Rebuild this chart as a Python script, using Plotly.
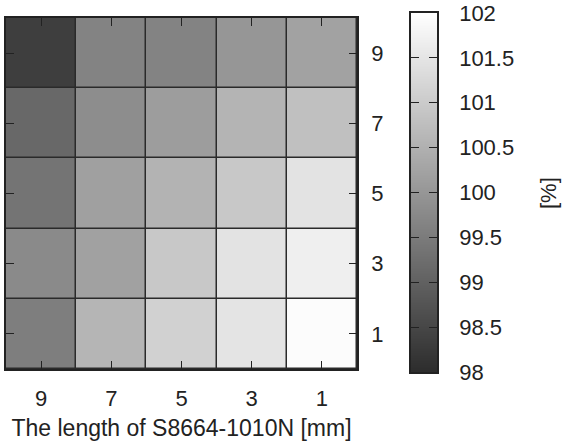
import plotly.graph_objects as go

x_vals = [9, 7, 5, 3, 1]
y_vals = [1, 3, 5, 7, 9]
# rows correspond to y_vals (bottom to top), columns to x_vals (left to right)
z_vals = [
    [99.55, 100.59, 101.13, 101.48, 101.94],   # y=1
    [99.78, 100.22, 100.96, 101.46, 101.69],   # y=3
    [99.37, 100.20, 100.55, 100.96, 101.46],   # y=5
    [99.14, 99.84, 100.14, 100.57, 100.80],    # y=7
    [98.35, 99.64, 99.64, 100.00, 100.24],     # y=9
]
cbar_ticks = [98, 98.5, 99, 99.5, 100, 100.5, 101, 101.5, 102]
cbar_text = ["98", "98.5", "99", "99.5", "100", "100.5", "101", "101.5", "102"]

FONT = "Liberation Sans, Arial, sans-serif"
INK = "#222222"
SCALE = [[0, "#2c2c2c"], [1, "#ffffff"]]
ZMIN, ZMAX = 98, 102

fig = go.Figure()

# main heatmap
fig.add_trace(go.Heatmap(
    x=[str(v) for v in x_vals],
    y=[str(v) for v in y_vals],
    z=z_vals,
    zmin=ZMIN, zmax=ZMAX,
    colorscale=SCALE,
    showscale=False,
    xgap=1.5, ygap=1.5,
    xaxis="x", yaxis="y",
))

# colour bar drawn as its own small heatmap so ticks can sit on both sides
fig.add_trace(go.Heatmap(
    x=[0],
    y=cbar_ticks,
    z=[[v] for v in cbar_ticks],
    zmin=ZMIN, zmax=ZMAX,
    colorscale=SCALE,
    showscale=False,
    zsmooth="best",
    hoverinfo="skip",
    xaxis="x2", yaxis="y2",
))

W_PAPER = 556.0
H_PAPER = 359.0

fig.update_layout(
    width=562,
    height=444,
    margin=dict(l=6, r=0, t=13, b=72, autoexpand=False),
    paper_bgcolor="white",
    plot_bgcolor="#2a2a2a",
    font=dict(family=FONT, size=22, color=INK),
    xaxis=dict(
        domain=[0, 351 / W_PAPER],
        anchor="y",
        type="category",
        showline=True, linecolor=INK, linewidth=1.5,
        mirror="ticks",
        ticks="inside", ticklen=8, tickwidth=1.3, tickcolor=INK,
        showgrid=False, zeroline=False,
        ticklabelstandoff=9,
        tickfont=dict(family=FONT, size=22, color=INK),
        title=dict(text="The length of S8664-1010N [mm]", standoff=10,
                   font=dict(family=FONT, size=23, color=INK)),
        automargin=False,
    ),
    yaxis=dict(
        domain=[3 / H_PAPER, 354 / H_PAPER],
        anchor="x",
        type="category",
        side="right",
        showline=True, linecolor=INK, linewidth=1.5,
        mirror="ticks",
        ticks="inside", ticklen=8, tickwidth=1.3, tickcolor=INK,
        showgrid=False, zeroline=False,
        ticklabelstandoff=8,
        tickfont=dict(family=FONT, size=22, color=INK),
        automargin=False,
    ),
    xaxis2=dict(
        domain=[405 / W_PAPER, 431 / W_PAPER],
        anchor="y2",
        range=[-0.5, 0.5],
        showline=True, linecolor=INK, linewidth=1.5, mirror=True,
        showticklabels=False, ticks="",
        showgrid=False, zeroline=False,
        fixedrange=True,
        automargin=False,
    ),
    yaxis2=dict(
        domain=[0, 1],
        anchor="x2",
        range=[ZMIN, ZMAX],
        side="right",
        showline=True, linecolor=INK, linewidth=1.5,
        mirror="ticks",
        tickvals=cbar_ticks, ticktext=cbar_text,
        ticks="inside", ticklen=8, tickwidth=1.3, tickcolor=INK,
        showgrid=False, zeroline=False,
        ticklabelstandoff=16,
        tickfont=dict(family=FONT, size=22, color=INK),
        fixedrange=True,
        automargin=False,
    ),
    annotations=[dict(
        text="[%]", textangle=-90,
        xref="paper", yref="paper",
        x=(548 - 6) / W_PAPER, y=(372 - 193) / H_PAPER,
        xanchor="center", yanchor="middle",
        showarrow=False,
        font=dict(family=FONT, size=22, color=INK),
    )],
)

fig.write_html("out.html")
